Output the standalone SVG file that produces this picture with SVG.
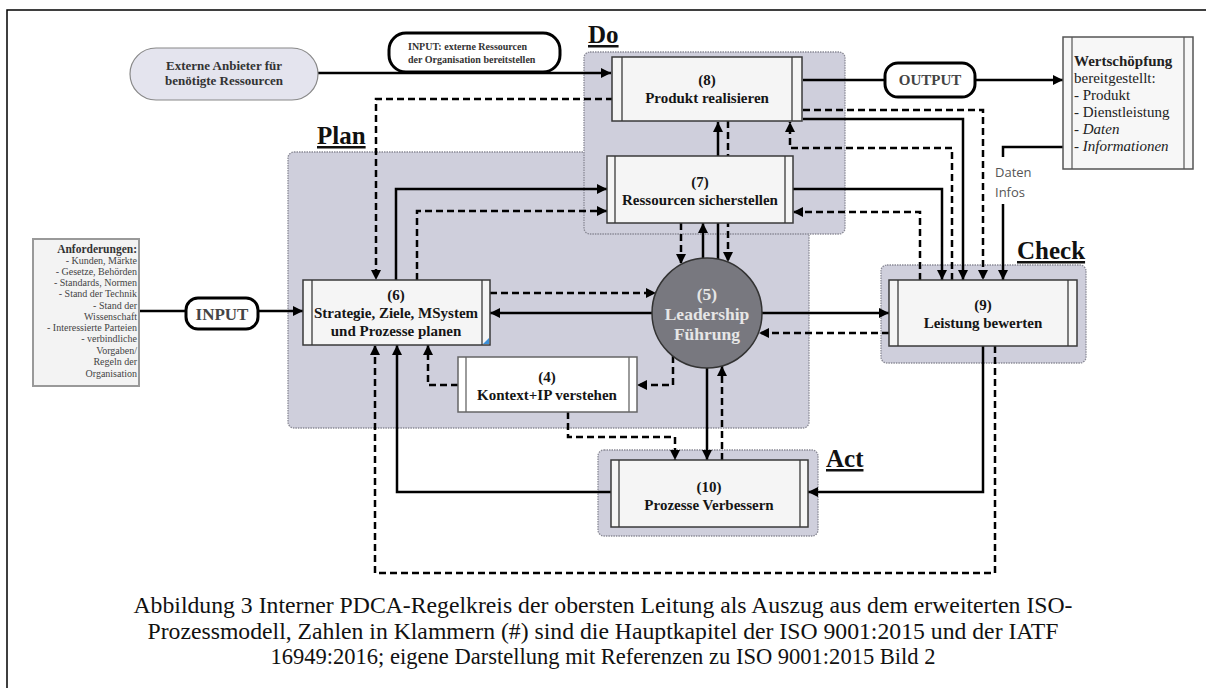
<svg xmlns="http://www.w3.org/2000/svg" width="1206" height="688" viewBox="0 0 1206 688">
<style>
.area{fill:#cfcfdc;stroke:#8a8a96;stroke-width:1.3;stroke-dasharray:1.5 1}
.box{fill:#f5f5f5;stroke:#3a3a3a;stroke-width:1.5}
.bar{stroke:#3a3a3a;stroke-width:1.3}
.bt{font-family:"Liberation Serif","Times New Roman",serif;font-weight:bold;font-size:15px;fill:#151515;text-anchor:middle}
.lab{font-family:"Liberation Serif","Times New Roman",serif;font-weight:bold;font-size:25px;fill:#111;text-decoration:underline}
.s{fill:none;stroke:#000;stroke-width:2.5}
.d{fill:none;stroke:#000;stroke-width:2.5;stroke-dasharray:7 4}
.pill{fill:#fff;stroke:#000;stroke-width:3}
.req{font-family:"Liberation Serif","Times New Roman",serif;font-size:10px;fill:#444;text-anchor:end}
.cap{font-family:"Liberation Serif","Times New Roman",serif;font-size:24px;fill:#111;text-anchor:middle}
</style>
<defs>
<marker id="ah" markerUnits="userSpaceOnUse" markerWidth="11" markerHeight="11" refX="10" refY="5" orient="auto">
<path d="M0,0 L10,5 L0,10 z" fill="#000"/>
</marker>
</defs>
<rect width="1206" height="688" fill="#fff"/>
<path d="M7,688 V10 H1206" fill="none" stroke="#000" stroke-width="1.5"/>

<g id="areas">
<rect id="plan-area" class="area" x="288" y="152" width="521" height="276" rx="6"/>
<rect id="do-area" class="area" x="584" y="52" width="261" height="182" rx="6"/>
<rect id="check-area" class="area" x="881" y="265" width="205" height="98" rx="6"/>
<rect id="act-area" class="area" x="598" y="450" width="220" height="86" rx="6"/>
<text class="lab" x="588" y="43">Do</text>
<text class="lab" x="317" y="144">Plan</text>
<text class="lab" x="1017" y="259">Check</text>
<text class="lab" x="826" y="467">Act</text>
</g>

<g id="connectors">
<path class="s" d="M318,73 H611" marker-end="url(#ah)"/>
<path class="s" d="M803,80 H1063" marker-end="url(#ah)"/>
<path class="s" d="M1063,147 H1003 V157"/>
<path class="s" d="M1003,204 V280" marker-end="url(#ah)"/>
<path class="d" d="M803,110 H983 V280" marker-end="url(#ah)"/>
<path class="s" d="M803,119 H963 V280" marker-end="url(#ah)"/>
<path class="d" d="M952,280 V148 H790 V122" marker-end="url(#ah)"/>
<path class="s" d="M793,189 H942 V280" marker-end="url(#ah)"/>
<path class="d" d="M920,280 V212 H793" marker-end="url(#ah)"/>
<path class="d" d="M613,99 H376 V280" marker-end="url(#ah)"/>
<path class="s" d="M396,280 V189 H607" marker-end="url(#ah)"/>
<path class="d" d="M417,280 V211 H607" marker-end="url(#ah)"/>
<path class="d" d="M490,293 H656" marker-end="url(#ah)"/>
<path class="s" d="M652,313 H490" marker-end="url(#ah)"/>
<path class="s" d="M762,313 H889" marker-end="url(#ah)"/>
<path class="d" d="M889,333 H759" marker-end="url(#ah)"/>
<path class="d" d="M681,223 V264" marker-end="url(#ah)"/>
<path class="s" d="M703,258 V223" marker-end="url(#ah)"/>
<path class="s" d="M718,259 V122" marker-end="url(#ah)"/>
<path class="d" d="M728,121 V262" marker-end="url(#ah)"/>
<path class="d" d="M673,356 V385 H637" marker-end="url(#ah)"/>
<path class="s" d="M707,368 V460" marker-end="url(#ah)"/>
<path class="d" d="M722,460 V366" marker-end="url(#ah)"/>
<path class="d" d="M458,385 H428 V345" marker-end="url(#ah)"/>
<path class="d" d="M568,412 V437 H675 V460" marker-end="url(#ah)"/>
<path class="s" d="M611,492 H397 V345" marker-end="url(#ah)"/>
<path class="s" d="M983,346 V492 H808" marker-end="url(#ah)"/>
<path class="d" d="M995,346 V573 H375 V345" marker-end="url(#ah)"/>
<path class="s" d="M139,311 H303" marker-end="url(#ah)"/>
</g>

<g id="input-ext-label">
<rect class="pill" x="389" y="33" width="171" height="39" rx="17"/>
<text font-family="Liberation Serif,serif" font-weight="bold" font-size="10" fill="#333" x="408" y="50">INPUT: externe Ressourcen</text>
<text font-family="Liberation Serif,serif" font-weight="bold" font-size="10" fill="#333" x="408" y="63">der Organisation bereitstellen</text>
</g>
<g id="output-label">
<rect class="pill" x="885" y="63" width="90" height="34" rx="13"/>
<text class="bt" x="930" y="85" style="fill:#444">OUTPUT</text>
</g>
<g id="input-label">
<rect class="pill" x="186" y="298" width="72" height="31" rx="12"/>
<text class="bt" x="222" y="320" style="font-size:17px;fill:#444">INPUT</text>
</g>
<g id="daten-infos">
<text font-family="Open Sans,Liberation Sans,sans-serif" font-size="13" fill="#555" x="995" y="177">Daten</text>
<text font-family="Open Sans,Liberation Sans,sans-serif" font-size="13" fill="#555" x="995" y="197">Infos</text>
</g>

<g id="supplier">
<rect x="130" y="48" width="188" height="52" rx="26" fill="#e4e4ee" stroke="#888" stroke-width="1.2"/>
<text class="bt" x="224" y="70" style="font-size:13px;fill:#333">Externe Anbieter für</text>
<text class="bt" x="224" y="85" style="font-size:13px;fill:#333">benötigte Ressourcen</text>
</g>

<g id="requirements">
<rect x="33" y="239" width="106" height="147" fill="#f3f3f3" stroke="#999" stroke-width="2"/>
<text class="req" x="137" y="253" style="font-weight:bold;font-size:11.5px;fill:#333">Anforderungen:</text>
<text class="req" x="137" y="264">- Kunden, Märkte</text>
<text class="req" x="137" y="275">- Gesetze, Behörden</text>
<text class="req" x="137" y="286">- Standards, Normen</text>
<text class="req" x="137" y="297">- Stand der Technik</text>
<text class="req" x="137" y="309">- Stand der</text>
<text class="req" x="137" y="320">Wissenschaft</text>
<text class="req" x="137" y="331">- Interessierte Parteien</text>
<text class="req" x="137" y="342">- verbindliche</text>
<text class="req" x="137" y="354">Vorgaben/</text>
<text class="req" x="137" y="365">Regeln der</text>
<text class="req" x="137" y="377">Organisation</text>
</g>

<g id="n8">
<rect class="box" x="612" y="57" width="190" height="64"/>
<line class="bar" x1="622" y1="57" x2="622" y2="121"/>
<line class="bar" x1="792" y1="57" x2="792" y2="121"/>
<text class="bt" x="707" y="85">(8)</text>
<text class="bt" x="707" y="103">Produkt realisieren</text>
</g>

<g id="n7">
<rect class="box" x="607" y="156" width="186" height="67"/>
<line class="bar" x1="615" y1="156" x2="615" y2="223"/>
<line class="bar" x1="785" y1="156" x2="785" y2="223"/>
<text class="bt" x="700" y="187">(7)</text>
<text class="bt" x="700" y="205">Ressourcen sicherstellen</text>
</g>

<g id="n6">
<rect class="box" x="303" y="280" width="187" height="65"/>
<line class="bar" x1="312" y1="280" x2="312" y2="345"/>
<line class="bar" x1="482" y1="280" x2="482" y2="345"/>
<polygon points="483,344 489,344 489,338" fill="#3b8fd9"/>
<text class="bt" x="396" y="300">(6)</text>
<text class="bt" x="396" y="318">Strategie, Ziele, MSystem</text>
<text class="bt" x="396" y="336">und Prozesse planen</text>
</g>

<g id="n5">
<circle cx="707" cy="313" r="55" fill="#78787f" stroke="#333" stroke-width="1.5"/>
<text class="bt" x="707" y="300" style="font-size:17.5px;fill:#e6e6e6">(5)</text>
<text class="bt" x="707" y="320" style="font-size:17.5px;fill:#e6e6e6">Leadership</text>
<text class="bt" x="707" y="340" style="font-size:17.5px;fill:#e6e6e6">Führung</text>
</g>

<g id="n4">
<rect class="box" x="458" y="357" width="179" height="55" style="fill:#fff;stroke:#666"/>
<line class="bar" x1="466" y1="357" x2="466" y2="412" style="stroke:#666"/>
<line class="bar" x1="629" y1="357" x2="629" y2="412" style="stroke:#666"/>
<text class="bt" x="547" y="382">(4)</text>
<text class="bt" x="547" y="400">Kontext+IP verstehen</text>
</g>

<g id="n9">
<rect class="box" x="889" y="280" width="188" height="66"/>
<line class="bar" x1="898" y1="280" x2="898" y2="346"/>
<line class="bar" x1="1068" y1="280" x2="1068" y2="346"/>
<text class="bt" x="983" y="310">(9)</text>
<text class="bt" x="983" y="328">Leistung bewerten</text>
</g>

<g id="n10">
<rect class="box" x="611" y="460" width="197" height="67"/>
<line class="bar" x1="619" y1="460" x2="619" y2="527"/>
<line class="bar" x1="800" y1="460" x2="800" y2="527"/>
<text class="bt" x="709" y="492">(10)</text>
<text class="bt" x="709" y="510">Prozesse Verbessern</text>
</g>

<g id="value">
<rect x="1063" y="37" width="130" height="132" fill="#f7f7f7" stroke="#555" stroke-width="1.5"/>
<line x1="1072" y1="37" x2="1072" y2="169" stroke="#555" stroke-width="1.2"/>
<line x1="1184" y1="37" x2="1184" y2="169" stroke="#555" stroke-width="1.2"/>
<g font-family="Liberation Serif,Times New Roman,serif" font-size="15" fill="#222">
<text x="1074" y="66" font-weight="bold">Wertschöpfung</text>
<text x="1074" y="83">bereitgestellt:</text>
<text x="1074" y="100">- Produkt</text>
<text x="1074" y="117">- Dienstleistung</text>
<text x="1074" y="134">- <tspan font-style="italic">Daten</tspan></text>
<text x="1074" y="151">- <tspan font-style="italic">Informationen</tspan></text>
</g>
</g>

<g id="caption">
<text class="cap" x="603" y="613" textLength="939" lengthAdjust="spacingAndGlyphs">Abbildung 3 Interner PDCA-Regelkreis der obersten Leitung als Auszug aus dem erweiterten ISO-</text>
<text class="cap" x="603" y="639" textLength="911" lengthAdjust="spacingAndGlyphs">Prozessmodell, Zahlen in Klammern (#) sind die Hauptkapitel der ISO 9001:2015 und der IATF</text>
<text class="cap" x="603" y="664" textLength="665" lengthAdjust="spacingAndGlyphs">16949:2016; eigene Darstellung mit Referenzen zu ISO 9001:2015 Bild 2</text>
</g>
</svg>
